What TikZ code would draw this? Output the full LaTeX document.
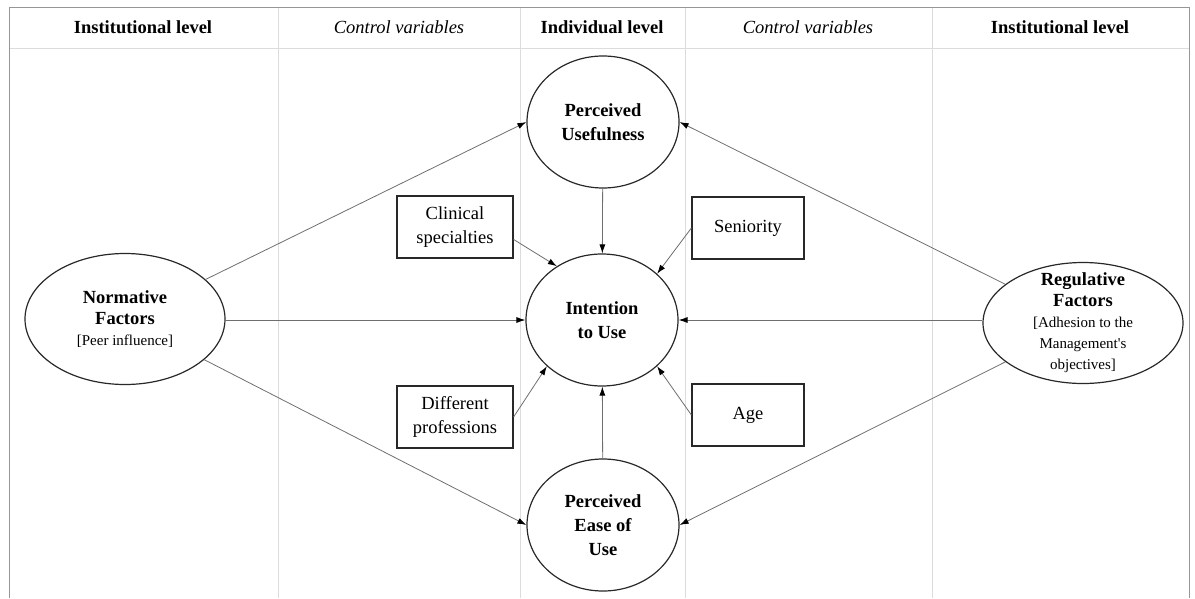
\documentclass[tikz,border=0pt]{standalone}
\usepackage{fontspec}
\setmainfont{Liberation Serif}
\definecolor{gridgray}{RGB}{220, 220, 220}
\definecolor{framegray}{RGB}{150, 150, 150}
\definecolor{arrowgray}{RGB}{110, 110, 110}
\definecolor{edgedark}{RGB}{40, 40, 40}
\usepackage{tikz}
\usetikzlibrary{shapes.geometric, arrows.meta, positioning}
\newcommand{\txt}{\fontsize{18.5}{24}\selectfont}
\newcommand{\tighttxt}{\fontsize{18.5}{21}\selectfont}
\newcommand{\smalltxt}{\fontsize{15}{21}\selectfont}

\tikzset{
  construct/.style={ellipse, draw=edgedark, line width=1.2pt, inner sep=0pt,
    minimum width=152pt, minimum height=132pt, align=center, font=\txt\bfseries},
  factor/.style={ellipse, draw=edgedark, line width=1.2pt, inner sep=0pt,
    minimum width=200pt},
  factortext/.style={align=center, font=\tighttxt, inner sep=0pt},
  control/.style={rectangle, draw=edgedark, line width=1.2pt, inner sep=0pt,
    minimum height=62pt, align=center, font=\txt},
  head/.style={font=\txt},
  link/.style={draw=arrowgray, line width=0.8pt,
    -{Latex[length=9pt, width=6pt, color=black]}}
}

\begin{document}
\begin{tikzpicture}[x=1pt, y=-1pt]
  \useasboundingbox (0, 0) rectangle (1195, 598);

  % Grid
  \draw[gridgray, line width=0.8pt] (9, 48) -- (1189, 48);
  \foreach \xc in {278, 520, 685, 932}
    \draw[gridgray, line width=0.8pt] (\xc, 7) -- (\xc, 598);
  \draw[framegray, line width=1pt] (9, 598) -- (9, 7) -- (1189, 7) -- (1189, 598);

  % Header
  \node[head] (hinst1) at (143, 27) {\bfseries Institutional level};
  \node[head] (hctrl1) at (399, 27) {\itshape Control variables};
  \node[head] (hindi)  at (602, 27) {\bfseries Individual level};
  \node[head] (hctrl2) at (808, 27) {\itshape Control variables};
  \node[head] (hinst2) at (1060, 27) {\bfseries Institutional level};

  % Individual level
  \node[construct] (pu)  at (603, 122) {Perceived\\Usefulness};
  \node[construct] (itu) at (602, 320) {Intention\\to Use};
  \node[construct] (peu) at (603, 525) {Perceived\\Ease of\\Use};

  % Institutional level
  \node[factor, minimum height=131pt] (norm) at (125, 319) {};
  \node[factortext] (normtext) at (norm)
    {\textbf{Normative}\\\textbf{Factors}\\{\smalltxt [Peer influence]}};
  \node[factor, minimum height=121pt] (reg) at (1083, 323) {};
  \node[factortext] (regtext) at (reg)
    {\textbf{Regulative}\\\textbf{Factors}\\{\smalltxt [Adhesion to the}\\
     {\smalltxt Management\textquotesingle s}\\{\smalltxt objectives]}};

  % Control variables
  \node[control, minimum width=116pt] (clin) at (455, 227) {Clinical\\specialties};
  \node[control, minimum width=116pt] (prof) at (455, 417) {Different\\professions};
  \node[control, minimum width=112pt] (sen)  at (748, 228) {Seniority};
  \node[control, minimum width=112pt] (age)  at (748, 415) {Age};

  % Paths
  \draw[link] (norm) -- (pu.west);
  \draw[link] (norm.east |- itu.west) -- (itu.west);
  \draw[link] (norm) -- (peu.west);
  \draw[link] (reg) -- (pu.east);
  \draw[link] (reg.west |- itu.east) -- (itu.east);
  \draw[link] (reg) -- (peu.east);
  \draw[link] (pu) -- (itu);
  \draw[link] (peu) -- (itu);
  \draw[link] (clin.-12) -- (itu.130);
  \draw[link] (prof.east) -- (itu.220);
  \draw[link] (sen.west) -- (itu.40);
  \draw[link] (age.west) -- (itu.-40);
\end{tikzpicture}
\end{document}
